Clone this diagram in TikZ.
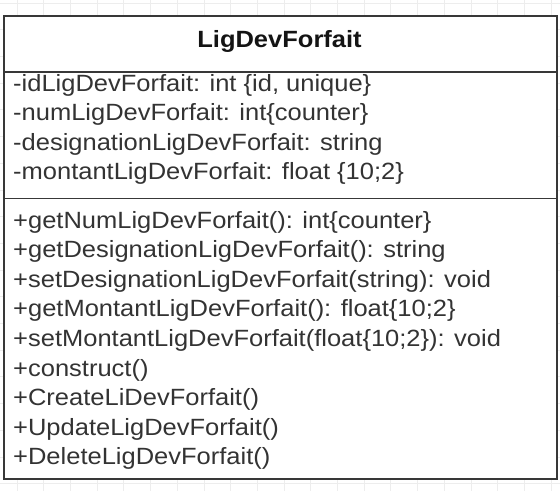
\documentclass[tikz,border=0pt]{standalone}
\usepackage{fontspec}
\setmainfont{Liberation Sans}
\usepackage{graphicx}
\begin{document}
\begin{tikzpicture}[x=1pt,y=-1pt,
  gridline/.style={draw=black!7,line width=0.8pt},
  classbox/.style={draw=black!78,line width=1.8pt,fill=white,inner sep=0pt},
  sepline/.style={draw=black!78,line width=1.6pt},
  titletext/.style={inner sep=0pt,anchor=base,text=black!92,font=\fontsize{23.5}{28}\selectfont\bfseries},
  member/.style={inner sep=0pt,anchor=base west,text=black!80,font=\fontsize{23.5}{30}\selectfont}]
\useasboundingbox (0,0) rectangle (560,491);
\fill[white] (0,0) rectangle (560,491);
\foreach \gx in {17,43.7,70.4,97.1,123.8,150.5,177.2,203.9,230.6,257.3,284,310.7,337.4,364.1,390.8,417.5,444.2,470.9,497.6,524.3,551}
  \draw[gridline] (\gx,0) -- (\gx,491);
\foreach \gy in {3,29.7,56.4,83.1,109.8,136.5,163.2,189.9,216.6,243.3,270,296.7,323.4,350.1,376.8,403.5,430.2,456.9,483.6}
  \draw[gridline] (0,\gy) -- (560,\gy);
\node[classbox,minimum width=553pt,minimum height=463pt,anchor=north west] (cls) at (3,15) {};
\coordinate (s1l) at (3,71.7); \coordinate (s1r) at (556,71.7);
\coordinate (s2l) at (3,198.5); \coordinate (s2r) at (556,198.5);
\draw[sepline] (s1l) -- (s1r);
\draw[sepline] (s2l) -- (s2r);
\def\sx{1.085}
\node[titletext] (title) at (279.5,47) {\scalebox{\sx}[1]{LigDevForfait}};
\node[member] (a1) at (13,91.2) {\scalebox{\sx}[1]{-idLigDevForfait: int \{id, unique\}}};
\node[member] (a2) at (13,120.6) {\scalebox{\sx}[1]{-numLigDevForfait: int\{counter\}}};
\node[member] (a3) at (13,150) {\scalebox{\sx}[1]{-designationLigDevForfait: string}};
\node[member] (a4) at (13,179.5) {\scalebox{\sx}[1]{-montantLigDevForfait: float \{10;2\}}};
\node[member] (m1) at (13,228) {\scalebox{\sx}[1]{+getNumLigDevForfait(): int\{counter\}}};
\node[member] (m2) at (13,257.6) {\scalebox{\sx}[1]{+getDesignationLigDevForfait(): string}};
\node[member] (m3) at (13,287.2) {\scalebox{\sx}[1]{+setDesignationLigDevForfait(string): void}};
\node[member] (m4) at (13,316.8) {\scalebox{\sx}[1]{+getMontantLigDevForfait(): float\{10;2\}}};
\node[member] (m5) at (13,346.4) {\scalebox{\sx}[1]{+setMontantLigDevForfait(float\{10;2\}): void}};
\node[member] (m6) at (13,376) {\scalebox{\sx}[1]{+construct()}};
\node[member] (m7) at (13,405.6) {\scalebox{\sx}[1]{+CreateLiDevForfait()}};
\node[member] (m8) at (13,435.2) {\scalebox{\sx}[1]{+UpdateLigDevForfait()}};
\node[member] (m9) at (13,464.8) {\scalebox{\sx}[1]{+DeleteLigDevForfait()}};
\end{tikzpicture}
\end{document}
